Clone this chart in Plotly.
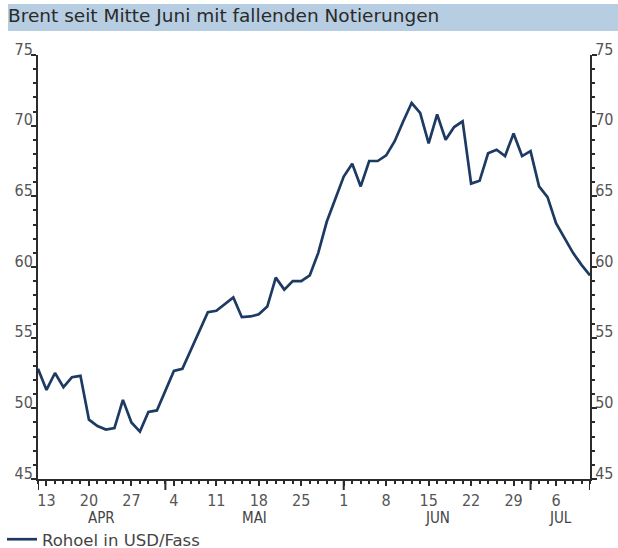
import pandas as pd
import plotly.graph_objects as go

# ---- data -------------------------------------------------------------
dates = pd.bdate_range("2009-04-10", "2009-07-10")  # trading-day axis
brent = [52.8, 51.3, 52.5, 51.5, 52.2, 52.3, 49.2, 48.75, 48.5, 48.6,
         50.6, 49.0, 48.35, 49.75, 49.85, 51.3, 52.65, 52.8, 54.1, 55.5,
         56.8, 56.9, 57.4, 57.85, 56.45, 56.5, 56.65, 57.2, 59.25, 58.4,
         59.0, 59.0, 59.4, 61.0, 63.2, 64.85, 66.4, 67.3, 65.7, 67.5,
         67.5, 67.9, 68.9, 70.3, 71.6, 70.9, 68.75, 70.8, 69.0, 69.9,
         70.3, 65.9, 66.1, 68.05, 68.3, 67.85, 69.45, 67.85, 68.2, 65.7,
         64.95, 63.1, 62.0, 61.0, 60.15, 59.4]
month_names = {4: "APR", 5: "MAI", 6: "JUN", 7: "JUL"}
title_text = "Brent seit Mitte Juni mit fallenden Notierungen"
series_name = "Rohoel in USD/Fass"

idx = list(range(len(dates)))
last = idx[-1]
monday_idx = [i for i, d in enumerate(dates) if d.weekday() == 0]
monday_txt = [str(dates[i].day) for i in monday_idx]
month_start = [i for i in idx if i > 0 and dates[i].month != dates[i - 1].month]
bounds = [0] + month_start + [last]
month_mid = [(bounds[k] + bounds[k + 1]) / 2 for k in range(len(bounds) - 1)]
month_lbl = [month_names[dates[bounds[k]].month] for k in range(len(bounds) - 1)]

# ---- layout geometry --------------------------------------------------
W, H = 618, 548
ML, MR, MT, MB = 38, 28, 55, 69
PW, PH = W - ML - MR, H - MT - MB


def px_x(px):
    return (px - ML) / PW


def px_y(py):
    return (H - MB - py) / PH


FONT = "DejaVu Sans Condensed"
FONT2 = "DejaVu Sans"
LINE = "#1d3a62"
AX = "#2b2b2b"
TXT = "#555555"

fig = go.Figure()
fig.add_trace(go.Scatter(x=idx, y=brent, mode="lines", name=series_name,
                         line=dict(color=LINE, width=2.7)))
# same series bound to the right-hand axis (invisible) so that axis is drawn
fig.add_trace(go.Scatter(x=idx, y=brent, mode="lines", yaxis="y2", opacity=0,
                         showlegend=False, hoverinfo="skip",
                         line=dict(color=LINE, width=0)))

yax = dict(range=[45, 75], dtick=5, tick0=45, showgrid=False, zeroline=False,
           showline=True, linecolor=AX, linewidth=2, ticks="outside", ticklen=5,
           tickwidth=1.5, tickcolor=AX, ticklabelposition="outside top",
           ticklabelshift=6,
           tickfont=dict(family=FONT, size=16, color=TXT),
           minor=dict(dtick=1, tick0=45, ticks="outside", ticklen=3, tickwidth=1.5,
                      tickcolor=AX, showgrid=False))

fig.update_layout(
    width=W, height=H, margin=dict(l=ML, r=MR, t=MT, b=MB, autoexpand=False),
    paper_bgcolor="white", plot_bgcolor="white",
    font=dict(family=FONT, color=TXT),
    xaxis=dict(range=[0, last], tickvals=monday_idx, ticktext=monday_txt,
               showgrid=False, zeroline=False, showline=True, linecolor=AX,
               linewidth=2, ticks="outside", ticklen=5, tickwidth=1.5, tickcolor=AX,
               ticklabelstandoff=1,
               tickfont=dict(family=FONT, size=16, color=TXT),
               minor=dict(dtick=1, tick0=0, ticks="outside", ticklen=3, tickwidth=1.5,
                          tickcolor=AX, showgrid=False)),
    yaxis=dict(side="left", **yax),
    yaxis2=dict(side="right", overlaying="y", matches="y", **yax),
    showlegend=True,
    legend=dict(x=px_x(2), y=px_y(522), xanchor="left", yanchor="top",
                orientation="h", font=dict(family=FONT2, size=16.5, color="#444444"),
                bgcolor="rgba(0,0,0,0)"),
    title=dict(text=title_text, xref="container", yref="container",
               x=8 / W, y=1 - 16 / H, xanchor="left", yanchor="middle",
               pad=dict(l=0, r=0, t=0, b=0),
               font=dict(family=FONT2, size=18.5, color="#2a2a2a")),
)

# title bar
fig.add_shape(type="rect", xref="paper", yref="paper", layer="below",
              x0=px_x(8), x1=px_x(W), y0=px_y(31), y1=px_y(4),
              fillcolor="#b7cde1", line=dict(width=0))

# long ticks at month starts and axis ends
for i in [0] + month_start + [last]:
    fig.add_shape(type="line", xref="x", yref="paper", ysizemode="pixel",
                  yanchor=0, x0=i, x1=i, y0=0, y1=-11,
                  line=dict(color=AX, width=2))

# month labels
for m, lbl in zip(month_mid, month_lbl):
    fig.add_annotation(x=m, y=0, xref="x", yref="paper", yanchor="middle",
                       yshift=-39, text=lbl, showarrow=False,
                       font=dict(family=FONT, size=15, color="#444444"))

fig.write_html("out.html", config={"displayModeBar": False},
               post_script="document.body.style.margin='0';"
                           "document.body.style.overflow='hidden';")
